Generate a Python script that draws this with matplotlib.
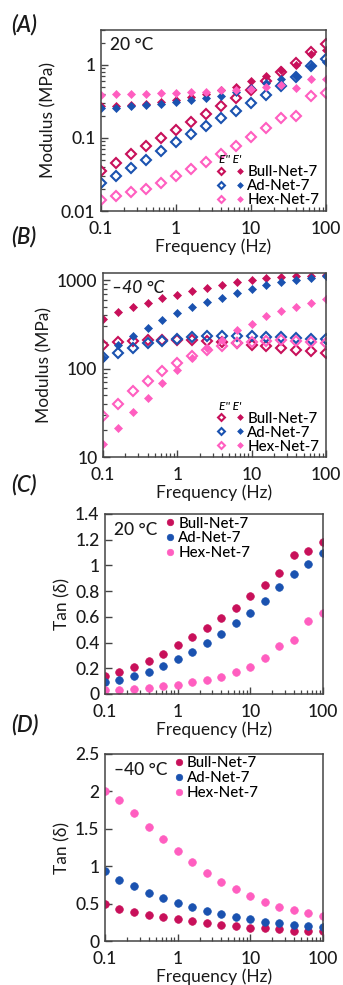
import matplotlib
matplotlib.use("Agg")
import matplotlib.pyplot as plt
from matplotlib.ticker import FixedLocator, FixedFormatter, LogLocator, NullFormatter
from matplotlib.legend_handler import HandlerTuple
import numpy as np

plt.rcParams['font.family'] = ['Lato', 'DejaVu Sans']
plt.rcParams['font.weight'] = 'medium'

freq = [0.1, 0.158, 0.251, 0.398, 0.631, 1, 1.58, 2.51, 3.98, 6.31, 10, 15.8, 25.1, 39.8, 63.1, 100]
names = ["Bull-Net-7", "Ad-Net-7", "Hex-Net-7"]
colors = ["#C8105A", "#1A52B0", "#FF5EC0"]

# Panel A: 20 C modulus (MPa)
a_Epp = {
    "Bull-Net-7": [0.035, 0.046, 0.06, 0.078, 0.1, 0.128, 0.165, 0.21, 0.27, 0.35, 0.46, 0.6, 0.8, 1.05, 1.5, 1.9],
    "Ad-Net-7":   [0.024, 0.03, 0.039, 0.05, 0.066, 0.087, 0.112, 0.145, 0.185, 0.235, 0.3, 0.39, 0.52, 0.68, 0.95, 1.2],
    "Hex-Net-7":  [0.014, 0.016, 0.018, 0.02, 0.024, 0.03, 0.037, 0.047, 0.06, 0.078, 0.103, 0.137, 0.187, 0.2, 0.37, 0.41],
}
a_Ep = {
    "Bull-Net-7": [0.27, 0.27, 0.28, 0.29, 0.31, 0.33, 0.36, 0.4, 0.45, 0.5, 0.6, 0.7, 0.85, 1.0, 1.4, 1.6],
    "Ad-Net-7":   [0.26, 0.26, 0.27, 0.28, 0.29, 0.31, 0.33, 0.35, 0.38, 0.43, 0.48, 0.56, 0.64, 0.7, 0.95, 1.1],
    "Hex-Net-7":  [0.39, 0.4, 0.4, 0.4, 0.41, 0.41, 0.42, 0.43, 0.45, 0.45, 0.47, 0.5, 0.53, 0.48, 0.65, 0.65],
}
# Panel B: -40 C modulus (MPa)
b_Epp = {
    "Bull-Net-7": [185, 200, 205, 208, 210, 210, 208, 205, 200, 195, 185, 178, 170, 162, 157, 150],
    "Ad-Net-7":   [135, 150, 172, 192, 205, 215, 225, 232, 235, 235, 232, 228, 225, 220, 218, 215],
    "Hex-Net-7":  [29, 40, 55, 73, 93, 115, 140, 160, 180, 195, 200, 205, 210, 205, 200, 195],
}
b_Ep = {
    "Bull-Net-7": [360, 430, 490, 550, 620, 680, 750, 810, 880, 940, 990, 1040, 1080, 1100, 1120, 1130],
    "Ad-Net-7":   [130, 185, 235, 290, 350, 420, 490, 560, 630, 710, 790, 870, 940, 1000, 1060, 1120],
    "Hex-Net-7":  [14, 21, 32, 47, 68, 97, 130, 170, 210, 270, 320, 390, 450, 500, 550, 610],
}
# Panel C: 20 C tan delta
c_tan = {
    "Bull-Net-7": [0.14, 0.17, 0.21, 0.26, 0.31, 0.38, 0.44, 0.51, 0.59, 0.67, 0.76, 0.85, 0.94, 1.08, 1.11, 1.18],
    "Ad-Net-7":   [0.09, 0.11, 0.14, 0.17, 0.22, 0.27, 0.33, 0.40, 0.47, 0.55, 0.63, 0.72, 0.83, 0.93, 1.01, 1.10],
    "Hex-Net-7":  [0.03, 0.03, 0.04, 0.05, 0.06, 0.07, 0.09, 0.11, 0.13, 0.17, 0.21, 0.28, 0.37, 0.42, 0.57, 0.63],
}
# Panel D: -40 C tan delta
d_tan = {
    "Bull-Net-7": [0.49, 0.43, 0.39, 0.35, 0.32, 0.29, 0.27, 0.24, 0.22, 0.2, 0.18, 0.17, 0.16, 0.14, 0.14, 0.13],
    "Ad-Net-7":   [0.93, 0.82, 0.73, 0.64, 0.57, 0.51, 0.45, 0.4, 0.36, 0.32, 0.29, 0.26, 0.24, 0.22, 0.2, 0.19],
    "Hex-Net-7":  [2.01, 1.88, 1.71, 1.53, 1.37, 1.2, 1.05, 0.91, 0.79, 0.69, 0.6, 0.52, 0.46, 0.41, 0.37, 0.34],
}

fig = plt.figure(figsize=(3.43, 9.85), dpi=100)
W, H = 343, 985

def add_ax(l, t, r, b):
    return fig.add_axes([l / W, 1 - b / H, (r - l) / W, (b - t) / H])

axA = add_ax(101, 30, 326, 211)
axB = add_ax(103, 273, 326, 457)
axC = add_ax(105, 514, 323, 694)
axD = add_ax(105, 754, 323, 941)

FS = 12.5
LFS = 10.8
spine_c = "#444444"
txt_c = "#1a1a1a"

def style(ax):
    for s in ax.spines.values():
        s.set_color(spine_c)
        s.set_linewidth(1.1)
    ax.set_xscale('log')
    ax.set_xlim(0.1, 100)
    ax.xaxis.set_major_locator(FixedLocator([0.1, 1, 10, 100]))
    ax.xaxis.set_major_formatter(FixedFormatter(["0.1", "1", "10", "100"]))
    ax.xaxis.set_minor_locator(LogLocator(base=10, subs=np.arange(2, 10)))
    ax.xaxis.set_minor_formatter(NullFormatter())
    ax.tick_params(which='both', direction='in', top=False, right=False, colors=spine_c,
                   labelcolor=txt_c, labelsize=FS)
    ax.tick_params(which='major', length=5, width=1)
    ax.tick_params(which='minor', length=3, width=0.9)
    ax.tick_params(axis='x', pad=7)
    ax.tick_params(axis='y', pad=4)
    ax.set_xlabel("Frequency (Hz)", fontsize=FS, color=txt_c, labelpad=1)

def modulus(ax, Epp, Ep, ylim, yt, ytl, temp, tstyle):
    style(ax)
    ax.set_yscale('log')
    ax.set_ylim(*ylim)
    handles = []
    for n, c in zip(names, colors):
        h1, = ax.plot(freq, Epp[n], linestyle='none', marker='D', ms=5, mfc='none', mec=c, mew=1.5)
        h2, = ax.plot(freq, Ep[n], linestyle='none', marker='D', ms=4.2, mfc=c, mec=c, mew=0.5)
        handles.append((h1, h2))
    ax.yaxis.set_major_locator(FixedLocator(yt))
    ax.yaxis.set_major_formatter(FixedFormatter(ytl))
    ax.yaxis.set_minor_locator(LogLocator(base=10, subs=np.arange(2, 10)))
    ax.yaxis.set_minor_formatter(NullFormatter())
    ax.set_ylabel("Modulus (MPa)", fontsize=FS, color=txt_c, labelpad=3)
    ax.text(0.04, 0.96, temp, transform=ax.transAxes, fontsize=FS, va='top', ha='left',
            color=txt_c, fontstyle=tstyle)
    lg = ax.legend(handles, names, handler_map={tuple: HandlerTuple(ndivide=None, pad=0.9)},
                   loc='lower right', bbox_to_anchor=(1.01, -0.03), frameon=False, fontsize=LFS,
                   handlelength=1.6, handletextpad=0.3, labelspacing=0.0, borderaxespad=0.2,
                   markerscale=0.7, title="E'' E'", title_fontsize=8.5)
    lg.get_title().set_fontstyle('italic')
    lg._legend_box.align = "left"

def tand(ax, data, ylim, yt, ytl, temp, tx, lx):
    style(ax)
    ax.set_ylim(*ylim)
    hs = []
    for n, c in zip(names, colors):
        h, = ax.plot(freq, data[n], linestyle='none', marker='o', ms=5.5, mfc=c, mec=c, mew=0.5, label=n)
        hs.append(h)
    ax.yaxis.set_major_locator(FixedLocator(yt))
    ax.yaxis.set_major_formatter(FixedFormatter(ytl))
    ax.set_ylabel("Tan (δ)", fontsize=FS, color=txt_c, labelpad=3)
    ax.text(tx, 0.955, temp, transform=ax.transAxes, fontsize=FS, va='top', ha='left', color=txt_c)
    ax.legend(hs, names, loc='upper left', bbox_to_anchor=(lx, 1.035), frameon=False, fontsize=LFS,
              handlelength=0.5, handletextpad=0.3, labelspacing=0.05, borderaxespad=0.2,
              markerscale=0.85)

modulus(axA, a_Epp, a_Ep, (0.01, 3), [0.01, 0.1, 1], ["0.01", "0.1", "1"], "20 °C", 'normal')
modulus(axB, b_Epp, b_Ep, (10, 1200), [10, 100, 1000], ["10", "100", "1000"], "–40 °C", 'italic')
tand(axC, c_tan, (0, 1.4), [0, 0.2, 0.4, 0.6, 0.8, 1.0, 1.2, 1.4],
     ["0", "0.2", "0.4", "0.6", "0.8", "1", "1.2", "1.4"], "20 °C", 0.04, 0.24)
tand(axD, d_tan, (0, 2.5), [0, 0.5, 1.0, 1.5, 2.0, 2.5],
     ["0", "0.5", "1", "1.5", "2", "2.5"], "–40 °C", 0.04, 0.28)

for lab, y in zip(["(A)", "(B)", "(C)", "(D)"], [25, 237, 485, 725]):
    fig.text(11 / W, 1 - y / H, lab, fontsize=16, fontstyle='italic', fontweight='semibold',
             va='center', ha='left', color=txt_c)

fig.savefig("out.png", dpi=100)
